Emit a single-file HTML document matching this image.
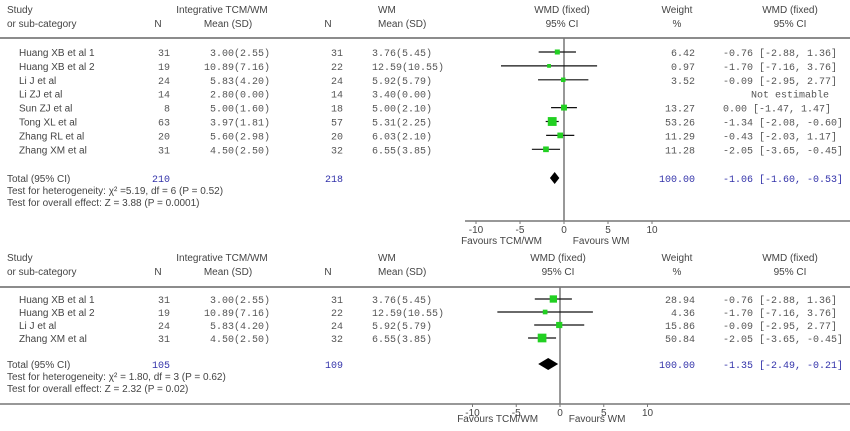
<!DOCTYPE html>
<html><head><meta charset="utf-8"><style>
body{margin:0;background:#fff}
svg{display:block}
text{font-family:"Liberation Sans",sans-serif;font-size:10px;fill:#444}
.m{font-family:"Liberation Mono",monospace;font-size:10px;fill:#555}
.b{fill:#33a}
</style></head><body>
<svg id="c" width="850" height="431"></svg>
<script>
// Panel 1 data
const studies1=["Huang XB et al 1","Huang XB et al 2","Li J et al","Li ZJ et al","Sun ZJ et al","Tong XL et al","Zhang RL et al","Zhang XM et al"];
const n1a=[31,19,24,14,8,63,20,31];
const mean1a=["3.00(2.55)","10.89(7.16)","5.83(4.20)","2.80(0.00)","5.00(1.60)","3.97(1.81)","5.60(2.98)","4.50(2.50)"];
const n1b=[31,22,24,14,18,57,20,32];
const mean1b=["3.76(5.45)","12.59(10.55)","5.92(5.79)","3.40(0.00)","5.00(2.10)","5.31(2.25)","6.03(2.10)","6.55(3.85)"];
const wmd1=[-0.76,-1.70,-0.09,null,0.00,-1.34,-0.43,-2.05];
const lo1=[-2.88,-7.16,-2.95,null,-1.47,-2.08,-2.03,-3.65];
const hi1=[1.36,3.76,2.77,null,1.47,-0.60,1.17,-0.45];
const w1=[6.42,0.97,3.52,null,13.27,53.26,11.29,11.28];
const tot1=[-1.06,-1.60,-0.53];
// Panel 2 data
const studies2=["Huang XB et al 1","Huang XB et al 2","Li J et al","Zhang XM et al"];
const n2a=[31,19,24,31];
const mean2a=["3.00(2.55)","10.89(7.16)","5.83(4.20)","4.50(2.50)"];
const n2b=[31,22,24,32];
const mean2b=["3.76(5.45)","12.59(10.55)","5.92(5.79)","6.55(3.85)"];
const wmd2=[-0.76,-1.70,-0.09,-2.05];
const lo2=[-2.88,-7.16,-2.95,-3.65];
const hi2=[1.36,3.76,2.77,-0.45];
const w2=[28.94,4.36,15.86,50.84];
const tot2=[-1.35,-2.49,-0.21];
const ticks=[-10,-5,0,5,10];

const S=document.getElementById('c'),NS='http://www.w3.org/2000/svg';
function el(t,a,txt){const e=document.createElementNS(NS,t);for(const k in a)e.setAttribute(k,a[k]);if(txt!=null)e.textContent=txt;S.appendChild(e);return e;}
function f2(v){return (v<0?"-":"")+Math.abs(v).toFixed(2);}
function panel(P,st,na,ma,nb,mb,wm,lo,hi,w,tot,het,ovr,nt){
  const x=v=>P.x0+v*P.k;
  let e;
  e=el('text',{x:7,y:P.h1},'Study');
  el('text',{x:7,y:P.h1+14},'or sub-category');
  el('text',{x:222,y:P.h1,'text-anchor':'middle'},'Integrative TCM/WM');
  el('text',{x:158,y:P.h1+14,'text-anchor':'middle'},'N');
  el('text',{x:228,y:P.h1+14,'text-anchor':'middle'},'Mean (SD)');
  el('text',{x:378,y:P.h1},'WM');
  el('text',{x:328,y:P.h1+14,'text-anchor':'middle'},'N');
  el('text',{x:378,y:P.h1+14},'Mean (SD)');
  el('text',{x:P.x0-2,y:P.h1,'text-anchor':'middle'},'WMD (fixed)');
  el('text',{x:P.x0-2,y:P.h1+14,'text-anchor':'middle'},'95% CI');
  el('text',{x:677,y:P.h1,'text-anchor':'middle'},'Weight');
  el('text',{x:677,y:P.h1+14,'text-anchor':'middle'},'%');
  el('text',{x:790,y:P.h1,'text-anchor':'middle'},'WMD (fixed)');
  el('text',{x:790,y:P.h1+14,'text-anchor':'middle'},'95% CI');
  e=el('line',{x1:0,x2:850,y1:P.hl,y2:P.hl,stroke:'#666','stroke-width':1.5});
  e=el('line',{x1:x(0),x2:x(0),y1:P.hl,y2:P.ax,stroke:'#777','stroke-width':1.5});
  st.forEach((s,i)=>{
    const y=P.r0+i*P.dr;
    el('text',{x:P.nx,y:y+4},s);
    el('text',{x:170,y:y+4,'text-anchor':'end',class:'m'},na[i]);
    el('text',{x:270,y:y+4,'text-anchor':'end',class:'m'},ma[i]);
    el('text',{x:343,y:y+4,'text-anchor':'end',class:'m'},nb[i]);
    el('text',{x:372,y:y+4,class:'m'},mb[i]);
    if(wm[i]==null){el('text',{x:790,y:y+4,'text-anchor':'middle',class:'m'},'Not estimable');return;}
    e=el('line',{x1:x(lo[i]),x2:x(hi[i]),y1:y,y2:y,stroke:'#111','stroke-width':1.2});
    
    
    const sz=3+Math.sqrt(w[i])*0.8;
    e=el('rect',{x:x(wm[i])-sz/2,y:y-sz/2,width:sz,height:sz,fill:'#22d022'});
    
    
    el('text',{x:695,y:y+4,'text-anchor':'end',class:'m'},w[i].toFixed(2));
    el('text',{x:723,y:y+4,class:'m'},(wm[i]<0?'':' ')+f2(wm[i])+' ['+f2(lo[i])+', '+(hi[i]<0?'':' ')+f2(hi[i])+']');
  });
  const ty=P.tot;
  e=el('text',{x:7,y:ty+4},'Total (95% CI)');
  el('text',{x:170,y:ty+4,'text-anchor':'end',class:'m b'},nt[0]);
  el('text',{x:343,y:ty+4,'text-anchor':'end',class:'m b'},nt[1]);
  el('text',{x:695,y:ty+4,'text-anchor':'end',class:'m b'},'100.00');
  el('text',{x:723,y:ty+4,class:'m b'},f2(tot[0])+' ['+f2(tot[1])+', '+f2(tot[2])+']');
  e=el('polygon',{points:`${x(tot[1])},${ty} ${x(tot[0])},${ty-6} ${x(tot[2])},${ty} ${x(tot[0])},${ty+6}`,fill:'#000'});
  
  el('text',{x:7,y:ty+16},het);
  el('text',{x:7,y:ty+28},ovr);
  e=el('line',{x1:P.axl,x2:850,y1:P.ax,y2:P.ax,stroke:'#777','stroke-width':1.5});
  ticks.forEach(t=>{el('line',{x1:x(t),x2:x(t),y1:P.ax,y2:P.ax+3,stroke:'#777'});el('text',{x:x(t),y:P.ax+12,'text-anchor':'middle'},t);});
  el('text',{x:x(-2.5),y:P.ax+P.fy,'text-anchor':'end'},'Favours TCM/WM');
  el('text',{x:x(1),y:P.ax+P.fy},'Favours WM');
}
panel({x0:564,k:8.8,h1:13,hl:38,r0:52,dr:13.9,tot:178,ax:221,axl:465,nx:19,fy:23},studies1,n1a,mean1a,n1b,mean1b,wmd1,lo1,hi1,w1,tot1,'Test for heterogeneity: χ² =5.19, df = 6 (P = 0.52)','Test for overall effect: Z = 3.88 (P = 0.0001)',[210,218]);
panel({x0:560,k:8.75,h1:261,hl:287,r0:299,dr:13,tot:364,ax:404,axl:0,nx:19,fy:18},studies2,n2a,mean2a,n2b,mean2b,wmd2,lo2,hi2,w2,tot2,'Test for heterogeneity: χ² = 1.80, df = 3 (P = 0.62)','Test for overall effect: Z = 2.32 (P = 0.02)',[105,109]);
</script>
</body></html>
